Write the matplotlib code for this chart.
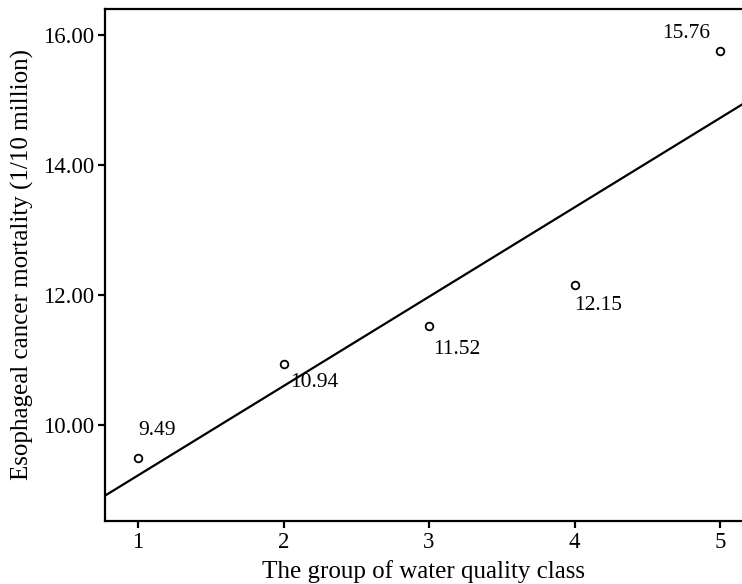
import numpy as np
import matplotlib
matplotlib.use("Agg")
import matplotlib.pyplot as plt

# data
groups = [1, 2, 3, 4, 5]
mortality = [9.49, 10.94, 11.52, 12.15, 15.76]
label_text = ["9.49", "10.94", "11.52", "12.15", "15.76"]
# label offsets in pixels (dx, dy) and alignment
label_offset = [(0, 27), (7, -19), (4, -23), (0, -20), (-10, 17)]
label_ha = ["left", "left", "left", "left", "right"]
y_ticks = [10.0, 12.0, 14.0, 16.0]

plt.rcParams['font.family'] = ['Liberation Serif', 'DejaVu Serif']

fig = plt.figure(figsize=(7.42, 5.84), dpi=100)
ax = fig.add_axes([105/742, 1 - 521/584, 1 - 105/742, (521 - 9)/584])

ax.set_xlim(0.773, 5.151)
ax.set_ylim(8.52, 16.40)

# linear fit line
slope, inter = np.polyfit(groups, mortality, 1)
xx = np.array(ax.get_xlim())
ax.plot(xx, slope*xx + inter, color='black', lw=1.6)

ax.plot(groups, mortality, 'o', mfc='white', mec='black', ms=5.5, mew=1.3, zorder=3)

for x, y, t, off, ha in zip(groups, mortality, label_text, label_offset, label_ha):
    ax.annotate(t, (x, y), xytext=off, textcoords='offset pixels',
                ha=ha, va='center', fontsize=15.5)

ax.set_xticks(groups)
ax.set_yticks(y_ticks)
ax.set_yticklabels(["%.2f" % v for v in y_ticks])
ax.spines['right'].set_visible(False)
for s in ['left', 'bottom', 'top']:
    ax.spines[s].set_linewidth(1.6)
ax.tick_params(direction='out', length=5, width=1.6, labelsize=16.5, pad=3)

ax.set_xlabel("The group of water quality class", fontsize=18, labelpad=5)
ax.set_ylabel("Esophageal cancer mortality (1/10 million)", fontsize=18, labelpad=6)

fig.savefig("out.png", dpi=100)
